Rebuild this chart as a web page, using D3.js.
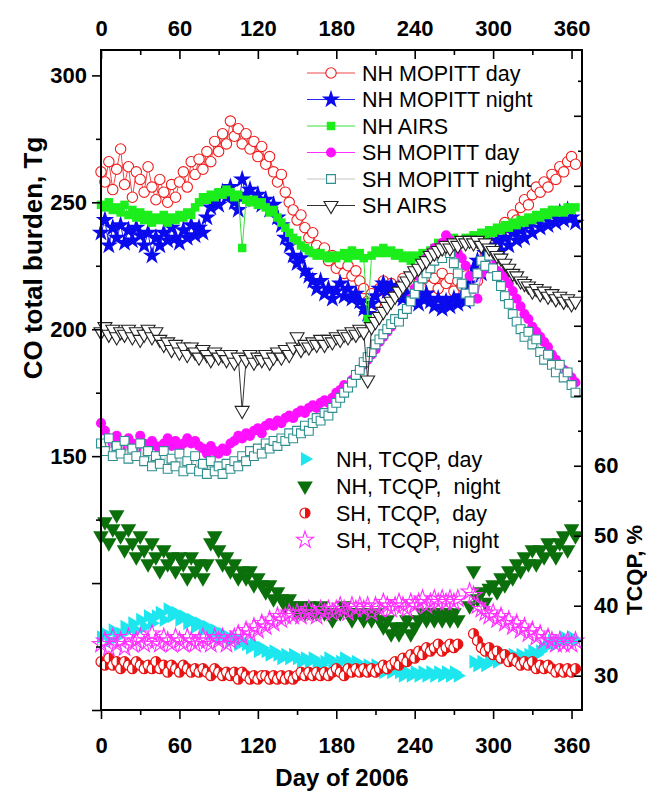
<!DOCTYPE html>
<html>
<head>
<meta charset="utf-8">
<title>CO total burden and TCQP, 2006</title>
<script src="https://cdn.jsdelivr.net/npm/d3@7/dist/d3.min.js"></script>
<style>
	body { margin: 0; background: #fff; }
	svg text { font-family: "Liberation Sans", Arial, sans-serif; fill: #000; }
	.tick text { font-weight: bold; font-size: 22px; }
	.title { font-weight: bold; }
	.legend text { font-size: 21.5px; white-space: pre; }
</style>
</head>
<body>
<svg id="svg" width="647" height="793"></svg>
<script>

// Day of year (every third day)
var days = [
	0,3,6,9,12,15,18,21,24,27,
	30,33,36,39,42,45,48,51,54,57,
	60,63,66,69,72,75,78,81,84,87,
	90,93,96,99,102,105,108,111,114,117,
	120,123,126,129,132,135,138,141,144,147,
	150,153,156,159,162,165,168,171,174,177,
	180,183,186,189,192,195,198,201,204,207,
	210,213,216,219,222,225,228,231,234,237,
	240,243,246,249,252,255,258,261,264,267,
	270,273,276,279,282,285,288,291,294,297,
	300,303,306,309,312,315,318,321,324,327,
	330,333,336,339,342,345,348,351,354,357,
	360,363
];

// CO total burden, Tg (left axis)
var nhMopittDay = [
	262,258,266,255,263,271,257,264,252,262,
	259,254,264,256,251,259,254,250,257,252,
	258,262,256,266,261,267,263,270,266,274,
	270,277,273,282,276,279,273,277,271,274,
	268,272,265,268,262,258,261,254,250,247,
	243,245,240,236,238,233,230,232,227,229,
	224,226,222,225,221,223,219,216,211,214,
	210,216,219,214,218,213,217,220,215,219,
	214,218,216,221,217,220,216,222,218,220,
	215,219,217,221,218,223,219,226,229,232,
	230,236,239,242,240,245,243,248,251,249,
	253,256,254,258,256,261,259,264,262,266,
	268,265
];

var nhMopittNight = [
	238,243,233,240,236,241,234,239,235,240,
	237,233,238,229,236,233,238,235,240,236,
	234,239,236,241,237,240,238,244,248,251,
	249,254,252,256,250,247,259,253,255,251,
	253,249,251,247,249,244,241,236,233,229,
	226,228,223,221,219,216,219,214,216,212,
	215,218,213,216,212,214,211,208,206,210,
	213,216,218,215,217,213,216,212,214,211,
	213,210,212,214,211,209,212,208,211,209,
	212,210,213,211,218,224,227,222,230,233,
	229,235,231,236,233,238,235,239,236,241,
	238,243,240,244,241,245,242,246,243,247,
	244,242
];

var nhAirs = [
	249,248,250,247,248,246,249,245,247,244,
	246,243,245,242,244,243,245,242,244,243,
	245,244,246,245,248,250,252,251,253,252,
	254,253,255,254,252,253,232,251,250,251,
	249,250,248,246,247,244,242,240,238,236,
	235,233,232,231,230,229,230,229,228,229,
	228,229,230,228,231,229,230,228,204,229,
	231,230,232,230,231,229,230,228,229,227,
	229,228,230,229,231,232,234,233,235,234,
	236,235,234,236,235,237,236,238,237,239,
	238,240,239,241,240,242,241,243,242,244,
	243,245,244,246,245,247,246,247,246,248,
	247,248
];

var shMopittDay = [
	163,160,157,155,158,156,154,157,155,153,
	158,155,153,156,154,152,155,157,154,156,
	153,155,157,155,156,154,153,151,154,152,
	151,153,152,155,156,158,157,159,158,160,
	161,159,162,163,162,164,163,165,166,165,
	167,168,167,169,170,169,171,172,171,173,
	175,176,178,177,180,182,184,186,188,190,
	192,195,197,199,201,203,204,206,208,212,
	216,221,225,228,230,232,231,234,237,235,
	233,230,228,225,221,216,212,222,225,224,
	226,223,222,221,218,215,212,209,206,204,
	201,199,197,195,193,190,188,186,184,183,
	181,179
];

var shMopittNight = [
	155,152,157,150,154,151,156,149,153,150,
	155,148,152,146,150,147,152,145,149,146,
	151,144,148,145,150,144,147,143,148,144,
	146,143,147,145,148,146,150,148,152,150,
	153,151,155,153,156,154,157,156,159,157,
	160,159,162,160,163,165,164,167,166,169,
	171,173,175,177,179,182,184,187,189,191,
	194,196,198,200,202,204,203,206,208,211,
	214,217,220,222,224,227,229,228,231,230,
	226,222,218,214,211,216,222,227,225,229,
	224,221,217,213,210,206,203,200,197,199,
	194,196,191,188,190,186,183,186,181,183,
	178,175
];

var shAirs = [
	199,201,198,200,197,199,198,200,197,199,
	196,198,200,197,199,196,194,195,192,194,
	191,193,190,193,191,189,192,190,188,191,
	189,190,188,190,187,189,168,188,190,187,
	189,188,190,187,189,191,189,192,190,193,
	197,192,194,193,195,194,196,194,196,195,
	197,196,198,197,199,198,200,199,180,201,
	203,205,207,209,211,213,215,217,219,221,
	223,224,226,227,229,230,231,232,233,232,
	234,233,235,234,235,234,235,233,234,232,
	231,229,228,226,224,222,221,219,218,217,
	215,216,214,215,213,214,212,213,211,212,
	210,211
];

// TCQP, % (right axis)
var nhTcqpDay = [
	35.5,36,35,36.5,35.5,36,37,36.5,37.5,36.5,
	38,37,38.5,37.5,38.5,39,38,39.5,38.5,39,
	38,38.5,37.5,38,37,37.5,36.5,37,36,36.5,
	35.5,36,35.5,35,35.5,34.5,35,34.5,34,34.5,
	33.5,34,33.5,33,33.5,33,32.5,33,32.5,33,
	32.5,32,32.5,32,32.5,32,31.5,32,32.5,32,
	31.5,32,32.5,32,31.5,32,31.5,31,31.5,31,
	31.5,31,30.5,31,30.5,31,30.5,30,30.5,30,
	30.5,30,30.5,30,30.5,30,30.5,30,30.5,30,
	30.5,30,null,null,null,32,31.5,32,31.5,32,
	32.5,32,32.5,33,32.5,33,32.5,33,32.5,33,
	33.5,33,33.5,34,34.5,35,34.5,35,35.5,35,
	35.5,35
];

var nhTcqpNight = [
	50,52,49,51,53,50,48,51,49,47,
	50,48,46,49,47,45,48,46,47,45,
	47,46,44,47,45,46,44,46,49,50,
	48,46,47,45,46,44,45,44,45,43,
	44,43,42,43,41,42,41,40,41,40,
	39,40,39,40,39,39,40,39,39,38,
	39,39,40,39,38,39,39,38,39,38,
	39,38,37,38,36,37,36,37,38,36,
	37,38,39,38,39,38,39,38,39,38,
	39,38,null,null,40,45,41,42,40.5,42.5,
	43,42,44,43,45,44,46,45,47,46,
	48,46,48,47,49,48,47,49,50,48,
	51,50
];

var shTcqpDay = [
	32,31.5,32.5,31.5,32,31,32,31.5,31,32,
	31.5,31,31.5,31,32,31,31.5,30.5,31.5,31,
	30.5,31.5,31,30.5,31,30.5,31,30.5,30,31,
	30.5,30,30.5,30,30.5,29.5,30.5,30,29.5,30,
	29.5,30,30,29.5,30,29.5,30,29.5,30,29.5,
	30,30.5,30,30.5,30,30.5,30,30.5,30,30.5,
	31,30.5,30,31,30.5,31,30.5,31,30.5,31,
	30.5,31,31.5,31,31.5,32,31.5,32.5,32,33,
	32.5,33.5,33,34,33.5,34,34.5,33.5,34,34.5,
	34,34.5,null,null,null,36,35,34,33.5,34,
	33,33.5,32.5,33,32,32.5,32,31.5,32,31.5,
	32,31,31.5,31,31.5,31,30.5,31,30.5,31,
	30.5,31
];

var shTcqpNight = [
	34.5,35,34,35.5,34.5,35,34,35.5,34.5,35,
	35.5,34.5,35,36,35,34.5,35.5,35,34.5,35.5,
	35,34.5,35.5,35,34.5,35,35.5,35,34.5,35.5,
	35,35.5,34.5,35,35.5,36,35.5,36.5,36,37,
	36.5,37.5,37,38,37.5,38.5,38,38.5,39,38.5,
	39,38.5,39,39.5,39,38.5,39.5,39,39.5,39,
	39.5,40,39.5,39,40,39.5,40,39.5,40,39,
	40,39.5,40.5,40,39.5,40,40.5,40,39.5,40.5,
	40,40.5,41,40,40.5,41,40.5,41,40.5,41,
	40.5,41,null,null,42,41.5,40,39.5,39,38.5,
	39,38,38.5,37.5,38,37,37.5,36.5,37,36,
	36.5,35.5,36,35,35.5,35,34.5,35,34.5,35,
	34.5,35
];

// Legend labels
var burdenLabels = ['NH MOPITT day', 'NH MOPITT night', 'NH AIRS', 'SH MOPITT day', 'SH MOPITT night', 'SH AIRS'];
var tcqpLabels = ['NH, TCQP, day', 'NH, TCQP,  night', 'SH, TCQP,  day', 'SH, TCQP,  night'];

// Tick values
var dayTicks = [0, 60, 120, 180, 240, 300, 360];
var dayMinorTicks = [30, 90, 150, 210, 270, 330];
var burdenTicks = [50, 100, 150, 200, 250, 300];
var burdenMinorTicks = [75, 125, 175, 225, 275];
var tcqpTicks = [30, 40, 50, 60, 70, 80, 90, 100, 110];
var tcqpMinorTicks = [35, 45, 55, 65, 75, 85, 95, 105, 115];


var CB = {};

CB.svg = d3.select('#svg');

CB.x = d3.scaleLinear().domain([0, 368]).range([101, 582]);
CB.yLeft = d3.scaleLinear().domain([50, 310]).range([710, 50]);
CB.yRight = d3.scaleLinear().domain([25.1, 119.4]).range([710, 50]);

// marker styles, one per series (same order as the legends)
CB.burdenStyles = [
	{ values: nhMopittDay, shape: d3.symbolCircle, size: 85, rotate: 0, stroke: '#f01c1c', fill: '#fff', line: '#f04848', width: 1 },
	{ values: nhMopittNight, shape: d3.symbolStar, size: 105, rotate: 0, stroke: 'none', fill: '#0a0aee', line: '#2a2aee', width: 1 },
	{ values: nhAirs, shape: d3.symbolSquare, size: 72, rotate: 0, stroke: 'none', fill: '#1cee1c', line: '#3ae03a', width: 1 },
	{ values: shMopittDay, shape: d3.symbolCircle, size: 80, rotate: 0, stroke: 'none', fill: '#ff10ff', line: '#ff30ff', width: 1 },
	{ values: shMopittNight, shape: d3.symbolSquare, size: 78, rotate: 0, stroke: '#2f8f8f', fill: '#fff', line: '#c4c4c4', width: 1 },
	{ values: shAirs, shape: d3.symbolTriangle, size: 85, rotate: 180, stroke: '#222', fill: '#fff', line: '#333', width: 1 }
];

CB.tcqpStyles = [
	{ values: nhTcqpDay, shape: d3.symbolTriangle, size: 85, rotate: 90, stroke: 'none', fill: '#1ee6ee' },
	{ values: nhTcqpNight, shape: d3.symbolTriangle, size: 105, rotate: 180, stroke: 'none', fill: '#0b700b' },
	{ values: shTcqpDay, shape: 'half', size: 5, rotate: 0, stroke: '#e81414', fill: '#fff' },
	{ values: shTcqpNight, shape: d3.symbolStar, size: 90, rotate: 0, stroke: '#ff30ff', fill: 'none' }
];

CB.points = function(values){
	var pts = [];
	days.forEach(function(d, i){
		pts.push({ day: d, v: values[i] });
	});
	return pts;
};

// draws one marker of a style into group g at (cx, cy)
CB.marker = function(g, style, cx, cy){
	if (style.shape === 'half'){
		var m = g.append('g').attr('transform', 'translate(' + cx + ',' + cy + ')');
		m.append('circle').attr('r', style.size).attr('fill', style.fill)
			.attr('stroke', style.stroke).attr('stroke-width', 1.2);
		m.append('path')
			.attr('d', d3.arc()({ innerRadius: 0, outerRadius: style.size, startAngle: 0, endAngle: Math.PI }))
			.attr('fill', style.stroke);
		return;
	}
	g.append('path')
		.attr('d', d3.symbol().type(style.shape).size(style.size)())
		.attr('transform', 'translate(' + cx + ',' + cy + ') rotate(' + style.rotate + ')')
		.attr('fill', style.fill)
		.attr('stroke', style.stroke)
		.attr('stroke-width', 1.1);
};

CB.drawSeries = function(style, y, withLine){
	var g = CB.svg.append('g'),
		pts = CB.points(style.values).filter(function(p){ return p.v !== null; });

	if (withLine){
		g.append('path')
			.datum(pts)
			.attr('fill', 'none')
			.attr('stroke', style.line)
			.attr('stroke-width', style.width)
			.attr('d', d3.line()
				.x(function(p){ return CB.x(p.day); })
				.y(function(p){ return y(p.v); }));
	}
	pts.forEach(function(p){
		CB.marker(g, style, CB.x(p.day), y(p.v));
	});
};

CB.axis = function(axis, translate){
	var g = CB.svg.append('g').attr('transform', translate).call(axis);
	g.select('.domain').remove();
	g.selectAll('.tick line').attr('stroke', '#000').attr('stroke-width', 1.6);
	return g;
};

CB.drawAxes = function(){
	var x = CB.x, yL = CB.yLeft, yR = CB.yRight;

	// bottom (outward ticks)
	CB.axis(d3.axisBottom(x).tickValues(dayMinorTicks).tickSize(5).tickFormat(''), 'translate(0,710)');
	CB.axis(d3.axisBottom(x).tickValues(dayTicks).tickSize(9).tickPadding(18), 'translate(0,710)');

	// top (inward ticks)
	CB.axis(d3.axisTop(x).tickValues(dayMinorTicks).tickSizeInner(-5).tickSizeOuter(0).tickFormat(''), 'translate(0,50)');
	CB.axis(d3.axisTop(x).tickValues(dayTicks).tickSizeInner(-9).tickSizeOuter(0).tickPadding(14), 'translate(0,50)');

	// left (outward ticks), labels only from 150 up
	CB.axis(d3.axisLeft(yL).tickValues(burdenMinorTicks).tickSize(5).tickFormat(''), 'translate(101,0)');
	CB.axis(d3.axisLeft(yL).tickValues(burdenTicks).tickSize(9).tickPadding(5)
		.tickFormat(function(d){ return d >= 150 ? d : ''; }), 'translate(101,0)');

	// right (inward ticks), labels only up to 60
	CB.axis(d3.axisRight(yR).tickValues(tcqpMinorTicks).tickSizeInner(-4).tickSizeOuter(0).tickFormat(''), 'translate(582,0)');
	CB.axis(d3.axisRight(yR).tickValues(tcqpTicks).tickSizeInner(-8).tickSizeOuter(0).tickPadding(12)
		.tickFormat(function(d){ return d <= 60 ? d : ''; }), 'translate(582,0)');

	CB.svg.append('rect')
		.attr('x', x.range()[0]).attr('y', yL.range()[1])
		.attr('width', x.range()[1] - x.range()[0])
		.attr('height', yL.range()[0] - yL.range()[1])
		.attr('fill', 'none').attr('stroke', '#000').attr('stroke-width', 2);

	CB.svg.append('text').attr('class', 'title')
		.attr('x', 342).attr('y', 786)
		.attr('text-anchor', 'middle').style('font-size', '24px')
		.text('Day of 2006');

	CB.svg.append('text').attr('class', 'title')
		.attr('transform', 'translate(42,258) rotate(-90)')
		.attr('text-anchor', 'middle').style('font-size', '26px')
		.text('CO total burden, Tg');

	CB.svg.append('text').attr('class', 'title')
		.attr('transform', 'translate(642,570) rotate(-90)')
		.attr('text-anchor', 'middle').style('font-size', '22px')
		.text('TCQP, %');
};

CB.drawLegends = function(){
	var g = CB.svg.append('g').attr('class', 'legend');

	CB.burdenStyles.forEach(function(style, i){
		var cy = 73 + i * 26.5;
		g.append('line').attr('x1', 307).attr('x2', 355).attr('y1', cy).attr('y2', cy)
			.attr('stroke', style.line).attr('stroke-width', 1);
		CB.marker(g, style, 331, cy);
		g.append('text').attr('x', 362).attr('y', cy + 7.5).text(burdenLabels[i]);
	});

	CB.tcqpStyles.forEach(function(style, i){
		var cy = 459 + i * 27;
		CB.marker(g, style, 305, cy);
		g.append('text').attr('x', 336).attr('y', cy + 7.5).text(tcqpLabels[i]);
	});
};


CB.burdenStyles.forEach(function(style){
	CB.drawSeries(style, CB.yLeft, true);
});
CB.tcqpStyles.forEach(function(style){
	CB.drawSeries(style, CB.yRight, false);
});
CB.drawAxes();
CB.drawLegends();

</script>
</body>
</html>
